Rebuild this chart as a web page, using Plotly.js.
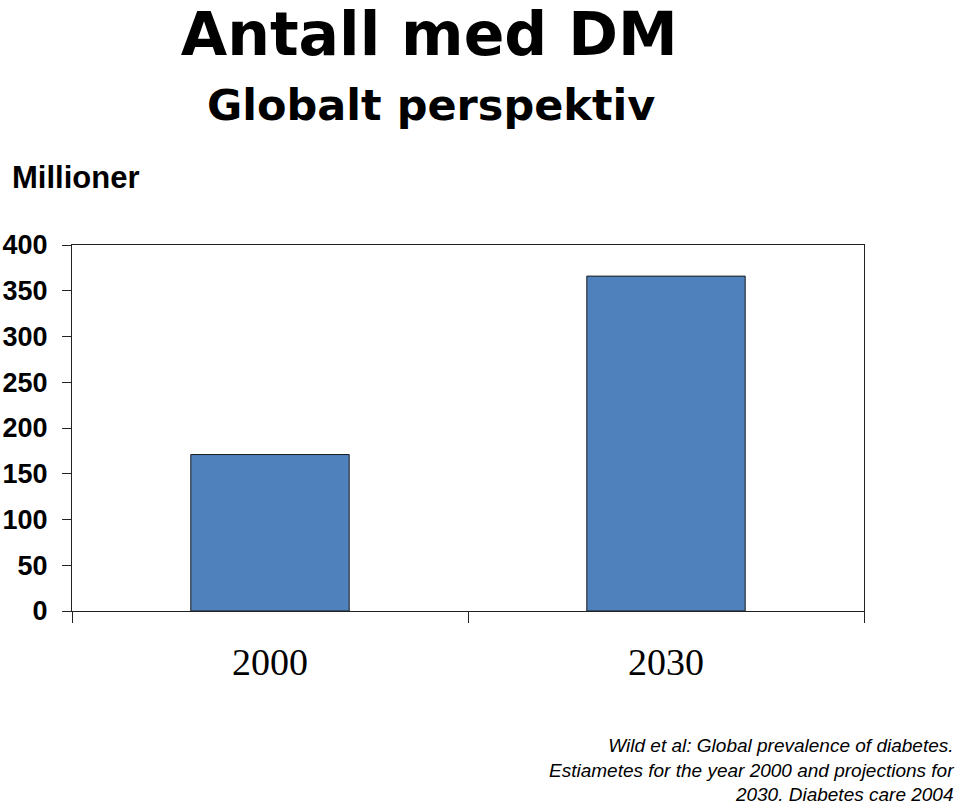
<!DOCTYPE html>
<html>
<head>
<meta charset="utf-8">
<script src="https://cdn.plot.ly/plotly-3.0.1.min.js"></script>
<style>html,body{margin:0;padding:0;background:#fff;}#chart{width:960px;height:806px;}</style>
</head>
<body>
<div id="chart"></div>
<script>
const years = ['2000', '2030'];
const millions = [171, 366];
const yTicks = [0, 50, 100, 150, 200, 250, 300, 350, 400];

const trace = {
  type: 'bar',
  x: years,
  y: millions,
  width: 0.4,
  marker: {color: '#4F81BD', line: {color: '#1a1a1a', width: 1}},
  hoverinfo: 'x+y'
};

const layout = {
  width: 960, height: 806,
  margin: {l: 72, r: 96, t: 245, b: 195, pad: 0},
  paper_bgcolor: '#fff', plot_bgcolor: '#fff',
  showlegend: false,
  bargap: 0.6,
  title: {
    text: 'Antall med DM',
    font: {family: '"Comic Sans MS", "DejaVu Sans", sans-serif', size: 60, color: '#000', weight: 'bold'},
    x: 433/960, xanchor: 'center', xref: 'paper',
    y: 1 - 34/806, yanchor: 'middle', yref: 'container'
  },
  xaxis: {
    type: 'category',
    showline: true, linecolor: '#222', linewidth: 1, mirror: true,
    ticks: 'outside', tickson: 'boundaries', ticklen: 11, tickcolor: '#222', tickwidth: 1,
    tickfont: {family: '"Liberation Serif", "Times New Roman", serif', size: 38, color: '#000'},
    ticklabelstandoff: 17,
    showgrid: false, zeroline: false
  },
  yaxis: {
    range: [0, 400],
    tickvals: yTicks,
    showline: true, linecolor: '#222', linewidth: 1, mirror: true,
    ticks: 'outside', ticklen: 9, tickcolor: '#222', tickwidth: 1,
    tickfont: {family: '"Liberation Sans", Arial, sans-serif', size: 27, color: '#000', weight: 'bold'},
    ticklabelstandoff: 9,
    showgrid: false, zeroline: false
  },
  annotations: [
    {
      text: 'Globalt perspektiv',
      xref: 'paper', yref: 'paper',
      x: (431 - 72) / 792, y: (611 - 105) / 366,
      xanchor: 'center', yanchor: 'middle', showarrow: false,
      font: {family: '"Comic Sans MS", "DejaVu Sans", sans-serif', size: 43, color: '#000', weight: 'bold'}
    },
    {
      text: 'Millioner',
      xref: 'paper', yref: 'paper',
      x: (10 - 72) / 792, y: (611 - 178) / 366,
      xanchor: 'left', yanchor: 'middle', showarrow: false,
      font: {family: '"Liberation Sans", Arial, sans-serif', size: 31, color: '#000', weight: 'bold'}
    },
    {
      text: 'Wild et al: Global prevalence of diabetes.<br>Estiametes for the year 2000 and projections for<br>2030. Diabetes care 2004',
      xref: 'paper', yref: 'paper',
      x: (956 - 72) / 792, y: (611 - 770) / 366,
      xanchor: 'right', yanchor: 'middle', align: 'right', showarrow: false,
      font: {family: '"Liberation Sans", Arial, sans-serif', size: 19, color: '#000', style: 'italic'}
    }
  ]
};

Plotly.newPlot('chart', [trace], layout, {displayModeBar: false, staticPlot: true});
</script>
</body>
</html>
